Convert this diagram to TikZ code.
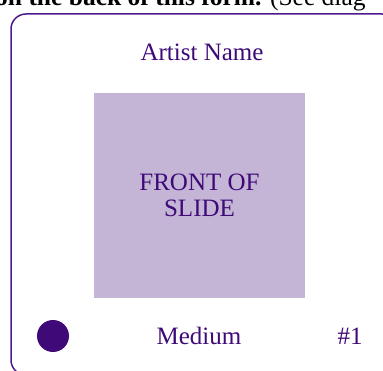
\documentclass[tikz,border=0pt]{standalone}
\usepackage{fontspec}
\setmainfont{Liberation Serif}
\usetikzlibrary{positioning}
\definecolor{slidePurple}{HTML}{3F0A78}
\definecolor{slideEdge}{HTML}{4B1A8C}
\definecolor{slideFill}{HTML}{C4B4D6}
\tikzset{
  slideText/.style={
    text=slidePurple,
    font=\fontsize{25}{26}\selectfont,
    inner sep=0pt
  },
  slideCard/.style={
    draw=slideEdge,
    line width=1.5pt,
    rounded corners=15pt
  },
  slideFront/.style={
    fill=slideFill,
    minimum width=211pt,
    minimum height=205pt,
    align=center,
    inner sep=0pt
  },
  slideDot/.style={circle, fill=slidePurple, minimum size=32pt, inner sep=0pt}
}

\begin{document}
\begin{tikzpicture}[x=1pt,y=-1pt]
  \useasboundingbox (0,0) rectangle (383,371);

  % cut-off line of the form above the card
  \node[anchor=base west, font=\fontsize{25.5}{28}\selectfont, inner sep=0pt]
    (formline) at (-5,6) {\textbf{on the back of this form.} (See diag};

  \draw[slideCard] (11,14) rectangle (397,375);

  \node[slideText] (artist) at (202,52) {Artist Name};
  \node[slideFront] (front) at (199.5,195.5) {};
  \node[slideText, align=center] (fronttext) at (front.center)
    {FRONT OF\\SLIDE};

  \node[slideDot] (dot) at (53,336) {};
  \node[slideText] (medium) at (199,336) {Medium};
  \node[slideText] (number) at (350,336) {\#1};
\end{tikzpicture}
\end{document}
